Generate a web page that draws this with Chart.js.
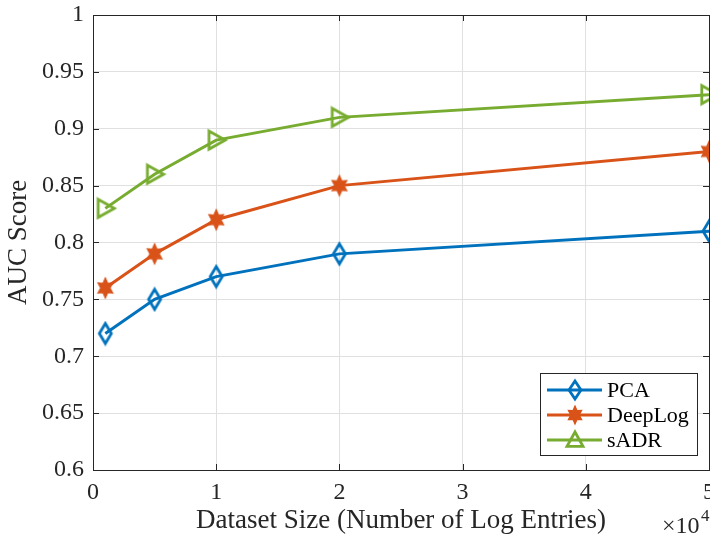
<!DOCTYPE html>
<html><head><meta charset="utf-8">
<script src="https://cdn.jsdelivr.net/npm/chart.js@4"></script>
<style>
html,body{margin:0;padding:0;background:#fff;overflow:hidden;width:710px;height:540px;}
#wrap{position:relative;width:730px;height:540px;}
</style></head>
<body>
<div id="wrap"><canvas id="c" width="730" height="540"></canvas></div>
<script>
const sizes = [0.1, 0.5, 1, 2, 5];
const pca = [0.72, 0.75, 0.77, 0.79, 0.81];
const deeplog = [0.76, 0.79, 0.82, 0.85, 0.88];
const sadr = [0.83, 0.86, 0.89, 0.91, 0.93];
const seriesNames = ['PCA', 'DeepLog', 'sADR'];
const xTicks = [0, 1, 2, 3, 4, 5];
const yTicks = [0.6, 0.65, 0.7, 0.75, 0.8, 0.85, 0.9, 0.95, 1];

const C_BLUE = '#0072BD', C_OR = '#D95319', C_GR = '#77AC30';
const FONT = 'Liberation Serif';

function makeCanvas(w, h){ const cv = document.createElement('canvas'); cv.width = w; cv.height = h; return cv; }
function starImg(r, color){
  const s = Math.ceil(r*2+4); const cv = makeCanvas(s, s);
  const g = cv.getContext('2d');
  const cx = s/2, cy = s/2, ri = r*0.55;
  g.beginPath();
  for(let i=0;i<12;i++){
    const a = -Math.PI/2 + i*Math.PI/6;
    const rr = i%2===0 ? r : ri;
    const px = cx + rr*0.85*Math.cos(a), py = cy + rr*Math.sin(a);
    i===0 ? g.moveTo(px,py) : g.lineTo(px,py);
  }
  g.closePath(); g.fillStyle = color; g.fill();
  g.lineWidth = 1.2; g.strokeStyle = color; g.stroke();
  return cv;
}
function diamondImg(hw, hh, color){
  const w = Math.ceil(hw*2+6), h = Math.ceil(hh*2+6); const cv = makeCanvas(w, h);
  const g = cv.getContext('2d'); const cx = w/2, cy = h/2;
  g.beginPath(); g.moveTo(cx, cy-hh); g.lineTo(cx+hw, cy); g.lineTo(cx, cy+hh); g.lineTo(cx-hw, cy); g.closePath();
  g.lineWidth = 2.8; g.strokeStyle = color; g.lineJoin = 'miter'; g.stroke();
  return cv;
}
function triImg(hw, hh, color){
  const w = Math.ceil(hw*2+6), h = Math.ceil(hh*2+6); const cv = makeCanvas(w, h);
  const g = cv.getContext('2d'); const cx = w/2, cy = h/2;
  g.beginPath(); g.moveTo(cx-hw*0.8, cy-hh); g.lineTo(cx+hw, cy); g.lineTo(cx-hw*0.8, cy+hh); g.closePath();
  g.lineWidth = 2.8; g.strokeStyle = color; g.stroke();
  return cv;
}
function triUpImg(hw, hh, color){
  const w = Math.ceil(hw*2+6), h = Math.ceil(hh*2+6); const cv = makeCanvas(w, h);
  const g = cv.getContext('2d'); const cx = w/2, cy = h/2;
  g.beginPath(); g.moveTo(cx, cy-hh); g.lineTo(cx+hw, cy+hh*0.8); g.lineTo(cx-hw, cy+hh*0.8); g.closePath();
  g.lineWidth = 2.8; g.strokeStyle = color; g.stroke();
  return cv;
}
const star = starImg(10, C_OR);
const diamond = diamondImg(6, 10, C_BLUE);
const tri = triImg(9, 9, C_GR);
const legIcons = [diamondImg(6, 9, C_BLUE), starImg(9, C_OR), triUpImg(8, 8, C_GR)];

const mk = (arr) => arr.map((v,i)=>({x:sizes[i], y:v}));

const frame = {
  id:'frame',
  afterDatasetsDraw(chart){
    const {ctx, chartArea:a} = chart;
    ctx.save();
    ctx.strokeStyle = '#262626'; ctx.lineWidth = 1;
    ctx.strokeRect(Math.round(a.left)+0.5, Math.round(a.top)+0.5, Math.round(a.right-a.left), Math.round(a.bottom-a.top));
    const xs = chart.scales.x, ys = chart.scales.y;
    ctx.beginPath();
    xTicks.forEach(t=>{ const px = Math.round(xs.getPixelForValue(t))+0.5;
      ctx.moveTo(px, a.bottom); ctx.lineTo(px, a.bottom-6);
      ctx.moveTo(px, a.top); ctx.lineTo(px, a.top+6); });
    yTicks.forEach(t=>{ const py = Math.round(ys.getPixelForValue(t))+0.5;
      ctx.moveTo(a.left, py); ctx.lineTo(a.left+6, py);
      ctx.moveTo(a.right, py); ctx.lineTo(a.right-6, py); });
    ctx.stroke();
    // exponent label
    ctx.fillStyle = '#262626';
    ctx.font = '24px ' + FONT;
    ctx.textBaseline = 'alphabetic';
    ctx.textAlign = 'left';
    ctx.fillText('\u00d710', 662, 533);
    ctx.font = '17px ' + FONT;
    ctx.fillText('4', 701, 521);
    // legend
    const lx = 540, ly = 373, lw = 157, lh = 82;
    ctx.fillStyle = '#fff';
    ctx.fillRect(lx, ly, lw, lh);
    ctx.strokeStyle = '#262626'; ctx.lineWidth = 1;
    ctx.strokeRect(lx+0.5, ly+0.5, lw, lh);
    const rows = [390, 415, 440];
    chart.data.datasets.forEach((ds,i)=>{
      const y = rows[i];
      ctx.strokeStyle = ds.borderColor; ctx.lineWidth = 3;
      ctx.beginPath(); ctx.moveTo(547, y); ctx.lineTo(602, y); ctx.stroke();
      const ic = legIcons[i];
      ctx.drawImage(ic, Math.round(574.5 - ic.width/2), Math.round(y - ic.height/2));
      ctx.fillStyle = '#000';
      ctx.font = '22px ' + FONT;
      ctx.textAlign = 'left'; ctx.textBaseline = 'middle';
      ctx.fillText(ds.label, 607, y+1);
    });
    ctx.restore();
  }
};

new Chart(document.getElementById('c'), {
  type: 'line',
  data: {
    datasets: [
      {label: seriesNames[0], data: mk(pca), borderColor: C_BLUE, backgroundColor: C_BLUE, borderWidth: 3,
       pointStyle: diamond, pointRadius: 10},
      {label: seriesNames[1], data: mk(deeplog), borderColor: C_OR, backgroundColor: C_OR, borderWidth: 3,
       pointStyle: star, pointRadius: 10},
      {label: seriesNames[2], data: mk(sadr), borderColor: C_GR, backgroundColor: C_GR, borderWidth: 3,
       pointStyle: tri, pointRadius: 10}
    ]
  },
  options: {
    responsive: false, animation: false,
    layout: {padding: {top: 15, right: 21, left: 0, bottom: 0}},
    plugins: {legend: {display: false}, tooltip: {enabled: false}},
    elements: {line: {tension: 0}},
    scales: {
      x: {
        type: 'linear', min: 0, max: 5,
        afterBuildTicks(s){ s.ticks = xTicks.map(v=>({value:v})); },
        afterFit(s){ s.height = 70; s.paddingLeft = 0; s.paddingRight = 0; },
        grid: {color: '#e0e0e0', drawTicks: false, lineWidth: 1},
        border: {display: false},
        ticks: {color: '#262626', font: {family: FONT, size: 24}, padding: 8, maxRotation: 0, autoSkip: false,
                callback: v => String(v)},
        title: {display: true, text: 'Dataset Size (Number of Log Entries)', color: '#262626',
                font: {family: FONT, size: 27}, padding: {top: 0, bottom: 3}}
      },
      y: {
        type: 'linear', min: 0.6, max: 1,
        afterBuildTicks(s){ s.ticks = yTicks.map(v=>({value:v})); },
        afterFit(s){ s.width = 93; s.paddingTop = 0; s.paddingBottom = 0; },
        grid: {color: '#e0e0e0', drawTicks: false, lineWidth: 1},
        border: {display: false},
        ticks: {color: '#262626', font: {family: FONT, size: 24}, padding: 9, autoSkip: false,
                callback: v => String(Math.round(v*100)/100)},
        title: {display: true, text: 'AUC Score', color: '#262626',
                font: {family: FONT, size: 27}, padding: {top: 3, bottom: 0}}
      }
    }
  },
  plugins: [frame]
});
</script>
</body></html>
